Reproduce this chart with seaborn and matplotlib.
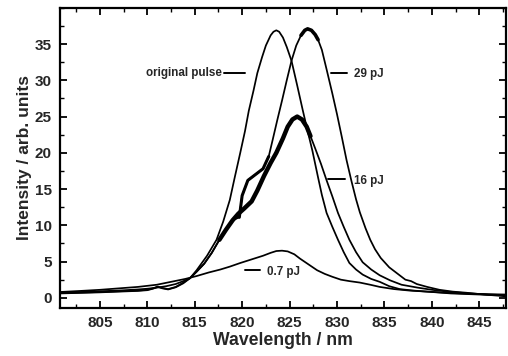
import numpy as np
import pandas as pd
import seaborn as sns
import matplotlib
matplotlib.use("Agg")
import matplotlib.pyplot as plt
from matplotlib.ticker import MultipleLocator

# ---- data ----
orig_wl = [800.8, 803, 805, 807, 809, 810, 811, 812, 813, 813.8, 814.5, 815.2, 816.3, 817.3,
           818.0, 818.7, 819.2, 819.8, 820.3, 820.7, 821.2, 821.6, 822.1, 822.5, 823.0, 823.3,
           823.6, 823.9, 824.3, 824.7, 825.2, 825.8, 826.4, 826.9, 827.4, 828.0, 828.4, 828.9,
           829.5, 830.1, 830.7, 831.3, 832.0, 832.7, 833.6, 834.5, 835.5, 836.6, 838, 840, 842,
           844, 846, 847.8]
orig_int = [0.7, 0.8, 0.9, 1.0, 1.15, 1.25, 1.4, 1.6, 1.9, 2.3, 2.7, 3.8, 5.8, 8.0,
            10.5, 13.5, 16.5, 20.0, 23.0, 25.8, 28.6, 31.0, 33.2, 34.8, 36.2, 36.7,
            36.9, 36.7, 35.9, 34.6, 32.7, 29.3, 25.8, 23.0, 20.3, 16.6, 14.2, 11.7,
            9.8, 8.0, 6.3, 4.8, 3.9, 3.2, 2.6, 2.2, 1.6, 1.2, 1.0, 0.8, 0.6,
            0.5, 0.4, 0.35]

p16_wl = [800.8, 803, 805, 807, 809, 810, 810.6, 811.1, 811.6, 812.2, 813, 813.8, 814.5, 815.2,
          816.0, 816.8, 817.6, 818.3, 819.0, 819.6, 820.2, 821.0, 821.6, 822.3, 823.0, 823.6,
          824.3, 824.8, 825.3, 825.8, 826.3, 826.8, 827.2, 827.7, 828.3, 828.9, 829.5, 830.1,
          830.7, 831.3, 832.0, 832.7, 833.6, 834.5, 835.6, 836.8, 838.5, 840, 842, 844, 846,
          847.8]
p16_int = [0.65, 0.72, 0.8, 0.9, 1.0, 1.1, 1.3, 1.55, 1.35, 1.2, 1.5, 2.1, 2.7, 3.6,
           4.7, 6.2, 8.0, 9.4, 10.7, 11.6, 12.3, 13.3, 14.8, 16.8, 18.6, 20.0,
           22.0, 23.6, 24.6, 25.0, 24.6, 23.6, 22.3, 20.6, 18.5, 16.2, 14.0, 11.7,
           9.8, 8.0, 6.3, 4.9, 3.9, 3.1, 2.4, 1.8, 1.4, 1.1, 0.8, 0.6, 0.45,
           0.35]

p29_wl = [800.8, 803, 805, 807, 809, 810, 810.6, 811.1, 811.6, 812.2, 813, 813.8, 814.5, 815.2,
          816.0, 816.8, 817.6, 818.3, 819.0, 819.7, 820.0, 820.6, 821.4, 822.2, 822.8, 823.2,
          823.7, 824.2, 824.7, 825.2, 825.7, 826.2, 826.6, 826.9, 827.3, 827.7, 828.0, 828.4,
          828.9, 829.5, 830.0, 830.5, 831.0, 831.5, 832.0, 832.4, 833.0, 833.5, 834.0, 834.6,
          835.5, 836.5, 837.2, 837.5, 837.8, 838.4, 839.5, 840.8, 842.2, 843.6, 845.5, 847.8]
p29_int = [0.6, 0.68, 0.75, 0.85, 0.95, 1.05, 1.25, 1.5, 1.3, 1.15, 1.45, 2.0, 2.7, 3.6,
           4.7, 6.2, 8.0, 9.4, 10.7, 11.1, 14.1, 16.2, 17.0, 17.8, 19.5, 21.7,
           24.5, 27.2, 30.0, 32.7, 34.8, 36.2, 36.9, 37.1, 36.9, 36.3, 35.6, 34.2,
           31.5, 28.2, 25.3, 22.2, 19.0, 16.2, 13.6, 11.8, 9.6, 8.0, 6.7, 5.5,
           4.2, 3.2, 2.5, 2.4, 2.3, 1.9, 1.5, 1.1, 0.85, 0.7, 0.45, 0.2]

p07_wl = [800.8, 803, 805, 807, 809, 811, 812.5, 814.0, 815.2, 816.5, 817.7, 818.7, 819.8,
          821.0, 822.2, 823.0, 823.6, 824.2, 824.8, 825.5, 826.1, 827.0, 827.9, 828.7, 829.5,
          830.4, 831.3, 832.4, 833.5, 834.5, 836.0, 837.6, 839.5, 841.5, 844, 847.8]
p07_int = [0.8, 0.95, 1.1, 1.3, 1.5, 1.8, 2.2, 2.6, 3.0, 3.5, 3.9, 4.3, 4.8,
           5.3, 5.8, 6.2, 6.45, 6.5, 6.4, 6.0, 5.4, 4.6, 3.8, 3.3, 2.9,
           2.5, 2.3, 2.1, 1.8, 1.5, 1.2, 1.0, 0.85, 0.7, 0.55, 0.45]

labels = ["original pulse", "29 pJ", "16 pJ", "0.7 pJ"]
x_ticks = [805, 810, 815, 820, 825, 830, 835, 840, 845]
y_ticks = [0, 5, 10, 15, 20, 25, 30, 35]

# ---- figure ----
sns.set_theme(style="ticks")
plt.rcParams["font.family"] = ["Liberation Sans", "DejaVu Sans"]
plt.rcParams["font.weight"] = "bold"

fig = plt.figure(figsize=(5.08, 3.56), dpi=100)
ax = fig.add_axes([0.118, 0.135, 0.878, 0.843])

def df(wl, it):
    return pd.DataFrame({"wl": wl, "I": it})

d_orig = df(orig_wl, orig_int)
d16 = df(p16_wl, p16_int)
d29 = df(p29_wl, p29_int)
d07 = df(p07_wl, p07_int)

lkw = dict(color="black", estimator=None, solid_joinstyle="round", solid_capstyle="round")
for d in (d_orig, d16, d29, d07):
    sns.lineplot(data=d, x="wl", y="I", lw=1.25, ax=ax, sort=True, **lkw)

# noisy (thick) parts of the measured traces
thick16 = d16[(d16.wl >= 817.5) & (d16.wl <= 827.3)]
sns.lineplot(data=thick16, x="wl", y="I", lw=3.2, ax=ax, **lkw)
thick29a = d29[(d29.wl >= 826.1) & (d29.wl <= 828.1)]
sns.lineplot(data=thick29a, x="wl", y="I", lw=2.6, ax=ax, **lkw)
thick29b = d29[(d29.wl >= 819.6) & (d29.wl <= 822.9)]
sns.lineplot(data=thick29b, x="wl", y="I", lw=2.2, ax=ax, **lkw)

# labels with leader lines
ann_kw = dict(color="black", lw=1.4)
tkw = dict(fontsize=8.4, fontweight="bold", va="center")
ax.plot([818.1, 820.3], [31.0, 31.0], **ann_kw)
ax.text(817.85, 31.0, labels[0], ha="right", **tkw)
ax.plot([829.4, 831.0], [31.0, 31.0], **ann_kw)
ax.text(831.8, 30.9, labels[1], ha="left", **tkw)
ax.plot([829.0, 830.8], [16.4, 16.4], **ann_kw)
ax.text(831.8, 16.1, labels[2], ha="left", **tkw)
ax.plot([820.3, 821.9], [3.8, 3.8], **ann_kw)
ax.text(822.6, 3.5, labels[3], ha="left", **tkw)

ax.set_xlim(800.8, 847.8)
ax.set_ylim(-1.4, 40)
ax.set_xticks(x_ticks)
ax.set_yticks(y_ticks)
ax.xaxis.set_minor_locator(MultipleLocator(2.5))
ax.yaxis.set_minor_locator(MultipleLocator(2.5))
ax.tick_params(which="both", direction="in", top=True, right=True, color="black")
ax.tick_params(which="major", length=5, width=1.3, labelsize=11, pad=6)
ax.tick_params(which="minor", length=3, width=1.0)
for lab in ax.get_xticklabels() + ax.get_yticklabels():
    lab.set_fontweight("bold")
for s in ax.spines.values():
    s.set_linewidth(1.6)
    s.set_color("black")

ax.set_xlabel("Wavelength / nm", fontsize=12.7, fontweight="bold", labelpad=1)
ax.set_ylabel("Intensity / arb. units", fontsize=12.5, fontweight="bold", labelpad=2)

fig.savefig("out.png", dpi=100)
